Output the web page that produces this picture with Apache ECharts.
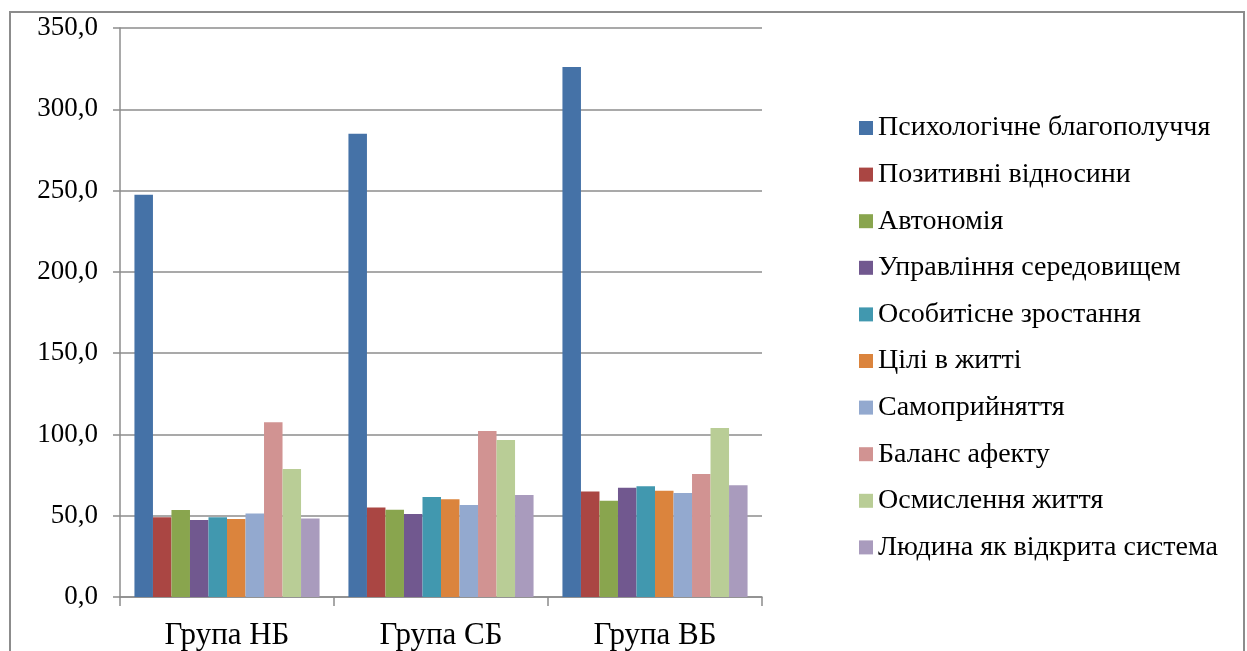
<!DOCTYPE html>
<html>
<head>
<meta charset="utf-8">
<script src="https://cdn.jsdelivr.net/npm/echarts@6/dist/echarts.min.js"></script>
<style>
  html, body { margin: 0; padding: 0; background: #fff; }
  #main { width: 1247px; height: 651px; }
</style>
</head>
<body>
<div id="main"></div>
<script>
// groups on the x axis
var categories = ['Група НБ', 'Група СБ', 'Група ВБ'];

// one series per scale
var scaleNames = [
    'Психологічне благополуччя',
    'Позитивні відносини',
    'Автономія',
    'Управління середовищем',
    'Особитісне зростання',
    'Цілі в житті',
    'Самоприйняття',
    'Баланс афекту',
    'Осмислення життя',
    'Людина як відкрита система'
];

// values per group, same order as scaleNames
var groupNB = [247.5, 49.0, 53.5, 47.4, 49.0, 48.0, 51.4, 107.5, 78.8, 48.3];
var groupSB = [285.0, 55.1, 53.7, 51.0, 61.5, 60.2, 56.6, 102.1, 96.6, 62.7];
var groupVB = [326.0, 64.9, 59.2, 67.2, 68.2, 65.3, 63.9, 75.6, 104.0, 68.8];

var yTicks = [0, 50, 100, 150, 200, 250, 300, 350];

var colors = ['#4572A7', '#AA4643', '#89A54E', '#71588F', '#4198AF',
              '#DB843D', '#93A9CF', '#D19392', '#B9CD96', '#A99BBD'];

var series = [];
for (var i = 0; i < scaleNames.length; i++) {
    series.push({
        name: scaleNames[i],
        type: 'bar',
        barGap: '0%',
        barCategoryGap: '13.5%',
        itemStyle: { color: colors[i] },
        data: [groupNB[i], groupSB[i], groupVB[i]]
    });
}

var myChart = echarts.init(document.getElementById('main'));

var option = {
    animation: false,
    textStyle: { fontFamily: 'Liberation Serif' },
    graphic: [{
        type: 'rect',
        shape: { x: 10, y: 12, width: 1234, height: 700 },
        style: { fill: 'none', stroke: '#8c8c8c', lineWidth: 2 },
        silent: true
    }],
    grid: { left: 120, right: 485, top: 28, bottom: 54 },
    legend: {
        orient: 'vertical',
        left: 854,
        top: 109,
        itemWidth: 14,
        itemHeight: 14,
        itemGap: 18.6,
        icon: 'rect',
        textStyle: { fontFamily: 'Liberation Serif', fontSize: 28, lineHeight: 26, color: '#000' },
        data: scaleNames
    },
    xAxis: {
        type: 'category',
        data: categories,
        axisLine: { lineStyle: { color: '#8c8c8c', width: 1.5 } },
        axisTick: { show: true, length: 9, lineStyle: { color: '#8c8c8c', width: 1.5 } },
        axisLabel: { fontFamily: 'Liberation Serif', fontSize: 31, color: '#000', margin: 23 }
    },
    yAxis: {
        type: 'value',
        min: yTicks[0],
        max: yTicks[yTicks.length - 1],
        interval: 50,
        axisLine: { show: true, lineStyle: { color: '#8c8c8c', width: 1.5 } },
        axisTick: { show: true, length: 7, lineStyle: { color: '#8c8c8c', width: 1.5 } },
        splitLine: { lineStyle: { color: '#8c8c8c', width: 1.5 } },
        axisLabel: {
            fontFamily: 'Liberation Serif',
            fontSize: 27,
            color: '#000',
            margin: 22,
            formatter: function (value) {
                return value.toFixed(1).replace('.', ',');
            }
        }
    },
    series: series
};

myChart.setOption(option);
</script>
</body>
</html>
